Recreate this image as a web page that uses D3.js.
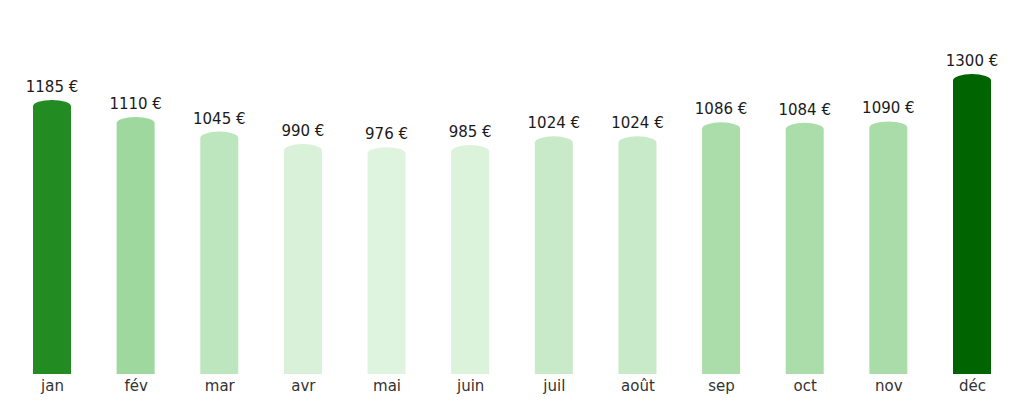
<!DOCTYPE html>
<html>
<head>
<meta charset="utf-8">
<script src="https://cdn.jsdelivr.net/npm/d3@7"></script>
<style>
  body { margin: 0; background: #fff; }
  text { font-family: "DejaVu Sans", sans-serif; }
</style>
</head>
<body>
<div id="chart"></div>
<script>
// monthly values
var months = ["jan", "fév", "mar", "avr", "mai", "juin", "juil", "août", "sep", "oct", "nov", "déc"];
var amounts = [1185, 1110, 1045, 990, 976, 985, 1024, 1024, 1086, 1084, 1090, 1300];

var svgWidth = 1024;
var svgHeight = 404;
var baseline = 374;
var barWidth = 38;
var capRy = 6.5;

var data = months.map((m, i) => ({ month: m, value: amounts[i] }));

var svg = d3.select("#chart")
  .append("svg")
  .attr("width", svgWidth)
  .attr("height", svgHeight);

var x = d3.scalePoint()
  .domain(months)
  .range([52, 972]);

var y = d3.scaleLinear()
  .domain([0, 1300])
  .range([baseline, 80.5]);

// top value dark, second lighter dark, the rest on a pale scale
var sorted = amounts.slice().sort((a, b) => b - a);
var pale = d3.scaleLinear()
  .domain([976, 1110])
  .range(["#dff4df", "#9fd89f"])
  .clamp(true);

function colorFor(v) {
  if (v === sorted[0]) return "#006400";
  if (v === sorted[1]) return "#228b22";
  return pale(v);
}

// bar with elliptical top
function barPath(d) {
  var cx = x(d.month);
  var x0 = cx - barWidth / 2;
  var x1 = cx + barWidth / 2;
  var yt = y(d.value);
  return `M${x0},${baseline} L${x0},${yt} A${barWidth / 2},${capRy} 0 0 1 ${x1},${yt} L${x1},${baseline} Z`;
}

svg.selectAll(".bar")
  .data(data)
  .enter()
  .append("path")
  .attr("class", "bar")
  .attr("d", barPath)
  .attr("fill", d => colorFor(d.value));

svg.selectAll(".val")
  .data(data)
  .enter()
  .append("text")
  .attr("class", "val")
  .attr("x", d => x(d.month))
  .attr("y", d => y(d.value) - capRy - 8)
  .attr("text-anchor", "middle")
  .attr("font-size", 15)
  .attr("fill", "#1a1a1a")
  .text(d => d.value + " €");

var bottomAxis = d3.axisBottom(x).tickSize(0).tickPadding(6);
var axisG = svg.append("g")
  .attr("transform", `translate(0, ${baseline})`)
  .call(bottomAxis);
axisG.select(".domain").remove();
axisG.selectAll("text")
  .attr("font-size", 15)
  .attr("font-family", "DejaVu Sans, sans-serif")
  .attr("fill", "#333");
</script>
</body>
</html>
